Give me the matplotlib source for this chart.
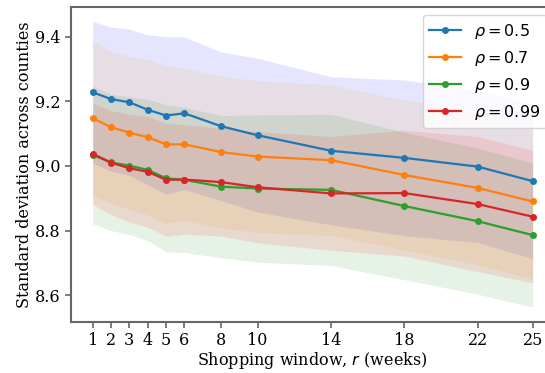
import matplotlib
matplotlib.use("Agg")
from matplotlib import pyplot as plt
import numpy as np

# shopping window (weeks)
windows = [1, 2, 3, 4, 5, 6, 8, 10, 14, 18, 22, 25]
labels = ["0.5", "0.7", "0.9", "0.99"]

# mean std across counties for each rho
mean_05 = [9.228, 9.207, 9.197, 9.174, 9.156, 9.163, 9.123, 9.095, 9.047, 9.025, 8.998, 8.953]
mean_07 = [9.148, 9.120, 9.103, 9.089, 9.067, 9.067, 9.043, 9.029, 9.018, 8.972, 8.932, 8.890]
mean_09 = [9.034, 9.011, 9.001, 8.988, 8.962, 8.957, 8.936, 8.930, 8.926, 8.876, 8.829, 8.786]
mean_099 = [9.038, 9.010, 8.993, 8.982, 8.957, 8.958, 8.950, 8.934, 8.915, 8.916, 8.882, 8.843]

# spread (half width of shaded band)
spread_05 = [0.219, 0.223, 0.226, 0.232, 0.244, 0.236, 0.230, 0.238, 0.229, 0.241, 0.235, 0.240]
spread_07 = [0.240, 0.234, 0.237, 0.241, 0.245, 0.235, 0.235, 0.235, 0.233, 0.232, 0.238, 0.240]
spread_09 = [0.213, 0.211, 0.213, 0.219, 0.227, 0.225, 0.220, 0.228, 0.234, 0.228, 0.226, 0.223]
spread_099 = [0.157, 0.161, 0.167, 0.171, 0.175, 0.169, 0.167, 0.172, 0.176, 0.195, 0.209, 0.205]

plt.rcParams['font.family'] = 'serif'
plt.rcParams['font.size'] = 11.5

fig = plt.figure(figsize=(5.45, 3.73), dpi=100)
ax = fig.add_axes([0.1297, 0.1367, 0.888, 0.8437])

means = [mean_05, mean_07, mean_09, mean_099]
spreads = [spread_05, spread_07, spread_09, spread_099]
line_cols = ['C0', 'C1', 'C2', 'C3']
fill_cols = ['blue', 'orange', 'green', 'red']

x = np.array(windows)
for m, s, lab, lc, fc in zip(means, spreads, labels, line_cols, fill_cols):
    m = np.array(m)
    s = np.array(s)
    ax.plot(x, m, marker='o', markersize=4, linewidth=1.6, color=lc,
            label=r'$\rho=' + lab + '$')
    ax.fill_between(x, m - s, m + s, color=fc, alpha=0.1, linewidth=0)

ax.set_xticks(windows)
ax.set_yticks([8.6, 8.8, 9.0, 9.2, 9.4])
ax.set_xlim(-0.2, 26.2)
ax.set_ylim(8.517, 9.491)

for sp in ax.spines.values():
    sp.set_color('#666666')
    sp.set_linewidth(1.5)
ax.tick_params(color='#666666', width=1.2, length=4, pad=3)

ax.set_xlabel(r'Shopping window, $r$ (weeks)', labelpad=1)
ax.set_ylabel('Standard deviation across counties', labelpad=2)
leg = ax.legend(loc='upper right', prop={'family': 'sans-serif', 'size': 11.5})

fig.savefig('out.png', dpi=100)
